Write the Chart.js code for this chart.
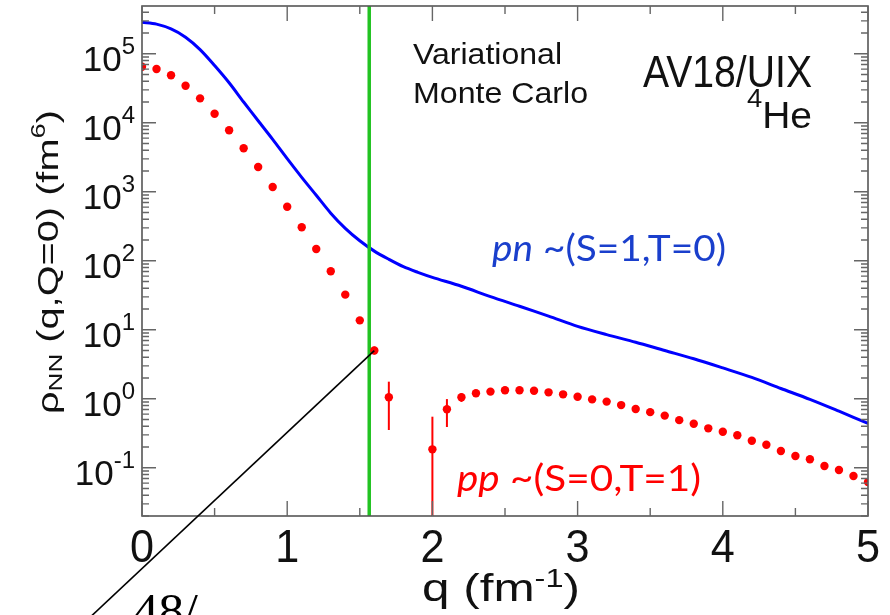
<!DOCTYPE html>
<html>
<head>
<meta charset="utf-8">
<script src="https://cdn.jsdelivr.net/npm/chart.js@4.4.1/dist/chart.umd.min.js"></script>
<style>
  html, body { margin: 0; padding: 0; background: #fff; }
  #wrap { width: 890px; height: 615px; position: relative; }
</style>
</head>
<body>
<div id="wrap"><canvas id="chart" width="890" height="615"></canvas></div>
<script>
// pn curve (blue)
const PN_Q = [0, 0.1, 0.2, 0.3, 0.4, 0.5, 0.6, 0.7, 0.8, 0.9, 1.0, 1.1, 1.2, 1.3, 1.4, 1.5, 1.6, 1.7, 1.8, 1.9, 2.0,
  2.2, 2.4, 2.6, 2.8, 3.0, 3.2, 3.4, 3.6, 3.8, 4.0, 4.2, 4.4, 4.6, 4.8, 5.0];
const PN_RHO = [2.86e5, 2.69e5, 2.29e5, 1.74e5, 1.15e5, 6.76e4, 3.80e4, 2.0e4, 1.07e4, 5750, 3020, 1620, 891, 490, 295, 195, 138, 105, 82, 68, 57.5,
  42.7, 30.2, 21.9, 15.8, 11.2, 8.5, 6.6, 5.0, 3.8, 2.8, 2.04, 1.41, 0.98, 0.66, 0.44];

// pp points (red)
const PP_Q = [0, 0.1, 0.2, 0.3, 0.4, 0.5, 0.6, 0.7, 0.8, 0.9, 1.0, 1.1, 1.2, 1.3, 1.4, 1.5, 1.6, 1.7,
  2.0, 2.1, 2.2, 2.3, 2.4, 2.5, 2.6, 2.7, 2.8, 2.9, 3.0, 3.1, 3.2, 3.3, 3.4, 3.5, 3.6, 3.7, 3.8, 3.9,
  4.0, 4.1, 4.2, 4.3, 4.4, 4.5, 4.6, 4.7, 4.8, 4.9, 5.0];
const PP_RHO = [65000, 60200, 48800, 34500, 22600, 13500, 7780, 4270, 2290, 1175, 608, 306, 148, 70.5, 32.3, 13.7, 5.0, 1.05,
  0.185, 0.705, 1.05, 1.2, 1.27, 1.33, 1.33, 1.31, 1.24, 1.16, 1.07, 0.98, 0.91, 0.81, 0.71, 0.64, 0.57, 0.49, 0.435, 0.373,
  0.333, 0.296, 0.247, 0.216, 0.175, 0.148, 0.133, 0.106, 0.093, 0.076, 0.062];

// error bars on the pp points
const ERR_Q = [1.6, 1.7, 2.0, 2.1, 2.2];
const ERR_LO = [4.4, 0.353, 0.01, 0.39, 0.9];
const ERR_HI = [5.7, 1.77, 0.55, 0.99, 1.2];

const Q_CUT = 1.565;            // green line
const LEADER_FROM = [1.6, 5.0]; // black pointer line
const LEADER_TO = [-0.43, 4.9e-4];

const X_MIN = 0, X_MAX = 5;
const Y_MIN = 0.02, Y_MAX = 4.93e5;
const X_LABELS = [0, 1, 2, 3, 4, 5];
const Y_DECADES = [-1, 0, 1, 2, 3, 4, 5];

const AXIS_GRAY = '#555';
const FONT = '"Liberation Sans", Arial, sans-serif';
const CAL = 'Lato, "Open Sans", sans-serif';

// draw a run of text pieces, optionally stretched to a target width
function drawRich(ctx, parts, x, y, opts) {
  ctx.save();
  let total = 0;
  const widths = parts.map((p) => {
    ctx.font = p[1];
    const w = ctx.measureText(p[0]).width;
    total += w;
    return w;
  });
  const sx = opts.width ? opts.width / total : 1;
  ctx.translate(x, y);
  if (opts.rotate) ctx.rotate(opts.rotate);
  ctx.scale(sx, 1);
  let cx = opts.align === 'right' ? -total : opts.align === 'center' ? -total / 2 : 0;
  ctx.fillStyle = opts.color || '#111';
  ctx.textAlign = 'left';
  ctx.textBaseline = 'alphabetic';
  parts.forEach((p, i) => {
    ctx.font = p[1];
    ctx.fillText(p[0], cx, p[2] || 0);
    cx += widths[i];
  });
  ctx.restore();
}

const decor = {
  id: 'decor',
  beforeDatasetsDraw(chart) {
    const { ctx, chartArea: a, scales: { x, y } } = chart;
    ctx.save();
    ctx.beginPath();
    ctx.rect(a.left, a.top, a.right - a.left, a.bottom - a.top);
    ctx.clip();
    ctx.strokeStyle = '#ff0000';
    ctx.lineWidth = 2;
    ERR_Q.forEach((q, i) => {
      const px = x.getPixelForValue(q);
      ctx.beginPath();
      ctx.moveTo(px, y.getPixelForValue(ERR_LO[i]));
      ctx.lineTo(px, y.getPixelForValue(ERR_HI[i]));
      ctx.stroke();
    });
    ctx.restore();
  },
  afterDraw(chart) {
    const { ctx, chartArea: a, scales: { x, y } } = chart;
    ctx.save();

    // frame
    ctx.strokeStyle = AXIS_GRAY;
    ctx.lineWidth = 1.6;
    ctx.strokeRect(a.left, a.top, a.right - a.left, a.bottom - a.top);

    // x ticks every 0.5, top and bottom, pointing in
    ctx.lineWidth = 1.4;
    ctx.strokeStyle = '#666';
    for (let k = 0; k <= 10; k++) {
      const q = k / 2;
      const px = x.getPixelForValue(q);
      const len = k % 2 === 0 ? 15 : 8;
      ctx.beginPath();
      ctx.moveTo(px, a.bottom); ctx.lineTo(px, a.bottom - len);
      ctx.moveTo(px, a.top); ctx.lineTo(px, a.top + len);
      ctx.stroke();
    }
    // y log ticks, left and right
    for (let d = -2; d <= 5; d++) {
      for (let m = 1; m <= 9; m++) {
        const v = m * Math.pow(10, d);
        if (v < Y_MIN || v > Y_MAX) continue;
        const py = y.getPixelForValue(v);
        const len = m === 1 ? 14 : 7;
        ctx.beginPath();
        ctx.moveTo(a.left, py); ctx.lineTo(a.left + len, py);
        ctx.moveTo(a.right, py); ctx.lineTo(a.right - len, py);
        ctx.stroke();
      }
    }

    // tick labels
    X_LABELS.forEach((q) => {
      drawRich(ctx, [[String(q), '46px ' + FONT]], x.getPixelForValue(q), 562, { align: 'center', width: 24 });
    });
    Y_DECADES.forEach((d) => {
      const py = y.getPixelForValue(Math.pow(10, d));
      drawRich(ctx, [['10', '35px ' + FONT, 0], [String(d), '24px ' + FONT, -17]], 135, py + 17.5, { align: 'right' });
    });

    // axis titles
    drawRich(ctx, [['q (fm', '38px ' + FONT, 0], ['-1', '25px ' + FONT, -14], [')', '38px ' + FONT, 0]],
      501, 601, { align: 'center', width: 158 });
    drawRich(ctx, [['\u03c1', '29px ' + FONT, 0], ['NN', '19px ' + FONT, 4], [' (q,Q=0) (fm', '29px ' + FONT, 0],
      ['6', '20px ' + FONT, -13], [')', '29px ' + FONT, 0]],
      57.5, 262, { align: 'center', rotate: -Math.PI / 2, width: 304 });

    // annotations
    drawRich(ctx, [['Variational', '30px ' + FONT]], 413, 64, { width: 149 });
    drawRich(ctx, [['Monte Carlo', '30px ' + FONT]], 413, 102.5, { width: 175 });
    drawRich(ctx, [['AV18/UIX', '44px ' + FONT]], 812, 86.5, { align: 'right', width: 169 });
    drawRich(ctx, [['4', '26px ' + FONT, -21], ['He', '37px ' + FONT, 0]], 812, 128, { align: 'right', width: 65 });
    drawRich(ctx, [['pn', 'italic 36px ' + CAL], [' ~(S=1,T=0)', '36px ' + CAL]], 492, 261, { width: 234, color: '#1a3fcc' });
    drawRich(ctx, [['pp', 'italic 36px ' + CAL], [' ~(S=0,T=1)', '36px ' + CAL]], 457, 491, { width: 244, color: '#ff0000' });

    // leader line from the q=1.6 point
    ctx.strokeStyle = '#000';
    ctx.lineWidth = 1.6;
    ctx.beginPath();
    ctx.moveTo(x.getPixelForValue(LEADER_FROM[0]), y.getPixelForValue(LEADER_FROM[1]));
    ctx.lineTo(x.getPixelForValue(LEADER_TO[0]), y.getPixelForValue(LEADER_TO[1]));
    ctx.stroke();

    drawRich(ctx, [['48/', '48px "Liberation Serif", "Times New Roman", serif']], 133, 627, { width: 65, color: '#000' });
    ctx.restore();
  },
};

new Chart(document.getElementById('chart'), {
  type: 'line',
  data: {
    datasets: [
      {
        label: 'pp',
        data: PP_Q.map((q, i) => ({ x: q, y: PP_RHO[i] })),
        showLine: false,
        pointRadius: 4.2,
        pointBorderWidth: 0,
        pointBackgroundColor: '#ff0000',
        pointBorderColor: '#ff0000',
      },
      {
        label: 'cut',
        data: [{ x: Q_CUT, y: Y_MIN }, { x: Q_CUT, y: Y_MAX }],
        borderColor: '#22c322',
        borderWidth: 3.5,
        pointRadius: 0,
      },
      {
        label: 'pn',
        data: PN_Q.map((q, i) => ({ x: q, y: PN_RHO[i] })),
        borderColor: '#0000ff',
        borderWidth: 3,
        pointRadius: 0,
        tension: 0.3,
      },
    ],
  },
  options: {
    responsive: false,
    animation: false,
    events: [],
    layout: { padding: { left: 142, right: 22, top: 6, bottom: 99 } },
    scales: {
      x: { type: 'linear', min: X_MIN, max: X_MAX, display: false },
      y: { type: 'logarithmic', min: Y_MIN, max: Y_MAX, display: false },
    },
    plugins: { legend: { display: false }, tooltip: { enabled: false } },
  },
  plugins: [decor],
});
</script>
</body>
</html>
